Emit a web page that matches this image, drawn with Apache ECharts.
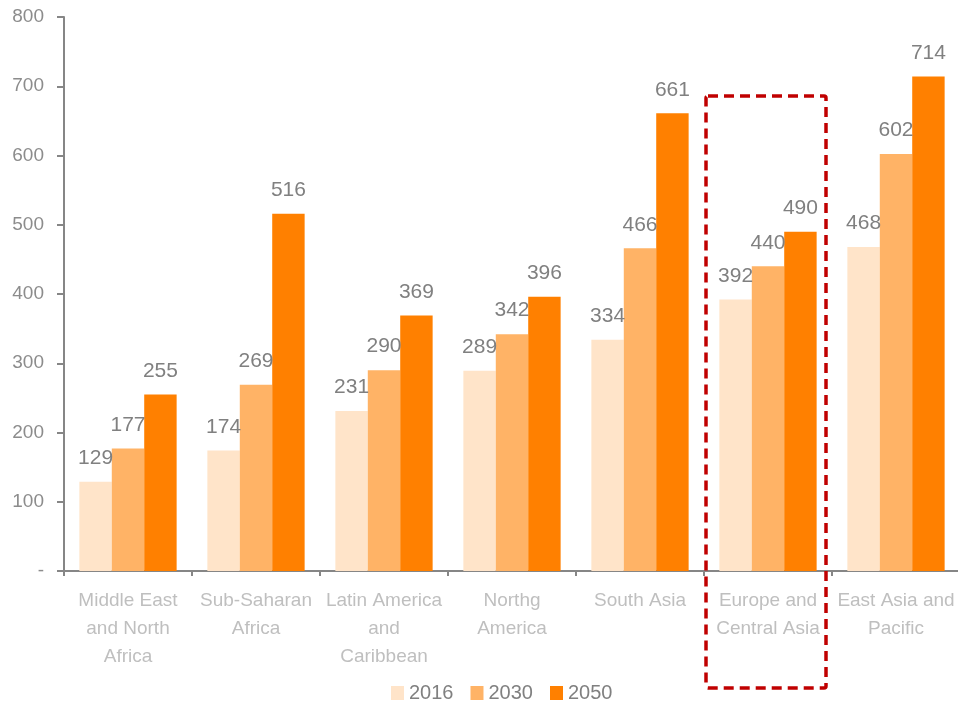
<!DOCTYPE html>
<html>
<head>
<meta charset="utf-8">
<script src="https://cdn.jsdelivr.net/npm/echarts@6/dist/echarts.min.js"></script>
<style>html,body{margin:0;padding:0;background:#fff;}#c{width:958px;height:701px;}</style>
</head>
<body>
<div id="c"></div>
<script>
const categories = ['Middle East\nand North\nAfrica', 'Sub-Saharan\nAfrica', 'Latin America\nand\nCaribbean', 'Northg\nAmerica', 'South Asia', 'Europe and\nCentral Asia', 'East Asia and\nPacific'];
const seriesNames = ['2016', '2030', '2050'];
const v2016 = [129, 174, 231, 289, 334, 392, 468];
const v2030 = [177, 269, 290, 342, 466, 440, 602];
const v2050 = [255, 516, 369, 396, 661, 490, 714];
const colors = ['#FFE4C9', '#FFB366', '#FF8000'];
const highlightIndex = 5;
const boxTopValue = 686;

const chart = echarts.init(document.getElementById('c'));
const font = '"Liberation Sans", Arial, sans-serif';
const mk = (name, data, color) => ({
  name, type: 'bar', data, barGap: 0, barCategoryGap: '24%',
  itemStyle: { color },
  label: { show: true, position: 'top', distance: 13, color: '#808080', fontSize: 21, fontFamily: font }
});
chart.setOption({
  animation: false,
  textStyle: { fontFamily: font },
  grid: { left: 64, top: 17, bottom: 130, width: 896, outerBoundsMode: 'none', containLabel: false },
  legend: {
    left: 386, top: 678, itemWidth: 13, itemHeight: 14, itemGap: 17, icon: 'rect',
    textStyle: { fontSize: 20, color: '#808080', fontFamily: font },
    data: seriesNames
  },
  xAxis: {
    type: 'category', data: categories,
    axisLine: { lineStyle: { color: '#868686', width: 2 } },
    axisTick: { show: true, length: 5, lineStyle: { color: '#868686', width: 2 } },
    axisLabel: { color: '#BFBFBF', fontSize: 19, lineHeight: 28, margin: 16, interval: 0, fontFamily: font }
  },
  yAxis: {
    type: 'value', min: 0, max: 800, interval: 100,
    splitLine: { show: false },
    axisLine: { show: true, lineStyle: { color: '#868686', width: 2 } },
    axisTick: { show: true, length: 7, lineStyle: { color: '#868686', width: 2 } },
    axisLabel: { color: '#8C8C8C', fontSize: 19, margin: 20, fontFamily: font,
      formatter: v => v === 0 ? '-' : String(v) }
  },
  series: [mk(seriesNames[0], v2016, colors[0]), mk(seriesNames[1], v2030, colors[1]), mk(seriesNames[2], v2050, colors[2])]
});

const cx = chart.convertToPixel({ xAxisIndex: 0 }, highlightIndex);
const yTop = chart.convertToPixel({ yAxisIndex: 0 }, boxTopValue);
const x0 = cx - 62, x1 = cx + 58, y1 = 688;
chart.setOption({
  graphic: [{
    type: 'rect', z: 100,
    shape: { x: x0, y: yTop, width: x1 - x0, height: y1 - yTop, r: 2 },
    style: { fill: 'none', stroke: '#C00000', lineWidth: 3.5, lineDash: [10, 6] }
  }]
});
</script>
</body>
</html>
